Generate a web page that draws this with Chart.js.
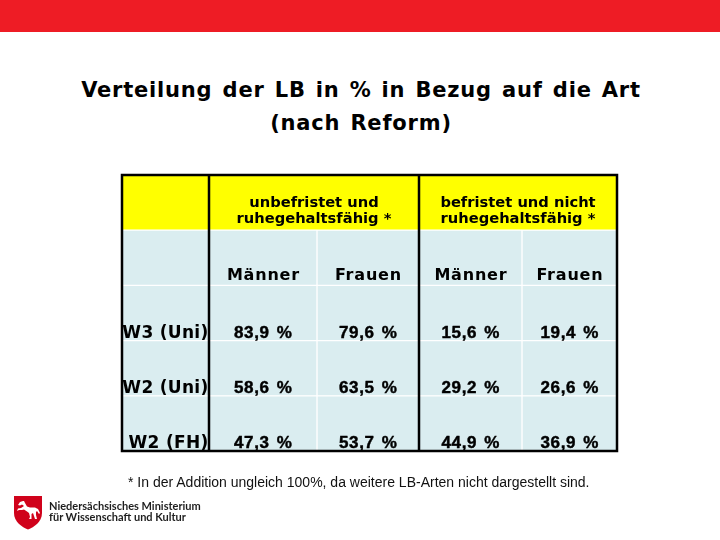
<!DOCTYPE html>
<html>
<head>
<meta charset="utf-8">
<script src="https://cdn.jsdelivr.net/npm/chart.js@4.4.1/dist/chart.umd.min.js"></script>
<style>
  html, body { margin:0; padding:0; background:#fff; }
  body { width:720px; height:540px; position:relative; overflow:hidden; font-family:"Liberation Sans", Arial, sans-serif; }
  #band { position:absolute; left:0; top:0; width:720px; height:32px; background:#ee1c25; }
  #title { position:absolute; left:1px; top:74px; width:720px; text-align:center; font-family:"DejaVu Sans", sans-serif; font-weight:bold; font-size:21px; line-height:33px; letter-spacing:0.8px; word-spacing:2px; color:#000; }
  #note { position:absolute; left:128px; top:474px; font-size:14px; line-height:16px; color:#111; white-space:nowrap; }
  #logo { position:absolute; left:14px; top:496px; }
  #ministry { position:absolute; left:49px; top:501px; font-family:Lato, "Open Sans", sans-serif; font-weight:bold; font-size:11px; line-height:10.5px; color:#1e1e1e; white-space:nowrap; }
  canvas { position:absolute; left:0; top:0; }
</style>
</head>
<body>
<div id="band"></div>
<div id="title">Verteilung der LB in % in Bezug auf die Art<br>(nach Reform)</div>
<canvas id="c" width="720" height="540"></canvas>
<div id="note">* In der Addition ungleich 100%, da weitere LB-Arten nicht dargestellt sind.</div>
<svg id="logo" width="28" height="34" viewBox="0 0 28 34">
  <path d="M0,0 H28 V17 C28,26 20,31 14,33.5 C8,31 0,26 0,17 Z" fill="#d0021b"/>
  <path d="M9,5 L6,6 L4,9 L6,9.5 L8,8.5 L10,10 L7,12 L4,12.5 L3,15 L5,14 L8,14 L10,13.5 L13,15.5 L15,17 L16,21 L15,23 L17.5,23 L17.5,18 L19,17 L20,20 L21,23 L23,23 L22,19 L22,16 L23,15 L25,18 L26,17 L24,13 L21,11.5 L16,11.5 L13,10.5 L11,7 L10,5 Z" fill="#fff"/>
</svg>
<div id="ministry">Niedersächsisches Ministerium<br>für Wissenschaft und Kultur</div>
<script>
// ---- data ----
const groupHeaders = ['unbefristet und\nruhegehaltsfähig *', 'befristet und nicht\nruhegehaltsfähig *'];
const subHeaders = ['Männer', 'Frauen', 'Männer', 'Frauen'];
const rowLabels = ['W3 (Uni)', 'W2 (Uni)', 'W2 (FH)'];
const unbefristetMaenner = [83.9, 58.6, 47.3];
const unbefristetFrauen  = [79.6, 63.5, 53.7];
const befristetMaenner   = [15.6, 29.2, 44.9];
const befristetFrauen    = [19.4, 26.6, 36.9];
const valueColumns = [unbefristetMaenner, unbefristetFrauen, befristetMaenner, befristetFrauen];

// ---- layout (not data) ----
const colWidths = [87, 108, 102, 103, 95];
const rowKeys = ['group', 'sub'].concat(rowLabels);
const YELLOW = '#ffff00', CYAN = '#daedf0';
const DJ = '"DejaVu Sans", sans-serif';
const AR = '"Liberation Sans", Arial, sans-serif';

function cellWidth(r, c) {
  if (r === 0) {
    if (c === 0) return colWidths[0];
    if (c === 1) return colWidths[1] + colWidths[2];
    if (c === 3) return colWidths[3] + colWidths[4];
    return null;
  }
  return colWidths[c];
}
function fmt(v) { return v.toFixed(1).replace('.', ',') + ' %'; }
function cellText(r, c) {
  if (r === 0) return c === 1 ? groupHeaders[0] : (c === 3 ? groupHeaders[1] : '');
  if (r === 1) return c >= 1 ? subHeaders[c - 1] : '';
  if (c === 0) return rowLabels[r - 2];
  return fmt(valueColumns[c - 1][r - 2]);
}

const datasets = colWidths.map((w, c) => ({
  label: 'col' + c,
  data: rowKeys.map((k, r) => cellWidth(r, c)),
  backgroundColor: rowKeys.map((k, r) => r === 0 ? YELLOW : CYAN),
  borderColor: '#ffffff',
  borderWidth: 1,
  borderSkipped: false,
  barPercentage: 1,
  categoryPercentage: 1
}));

function heavyText(ctx, txt, x, y, stroke) {
  ctx.fillText(txt, x, y);
  if (stroke) { ctx.lineWidth = stroke; ctx.strokeText(txt, x, y); }
}

const tablePlugin = {
  id: 'tableCells',
  afterDatasetsDraw(chart) {
    const ctx = chart.ctx, xs = chart.scales.x, a = chart.chartArea;
    ctx.save();
    ctx.strokeStyle = '#000';
    ctx.lineWidth = 2.5;
    const v1 = xs.getPixelForValue(colWidths[0]);
    const v2 = xs.getPixelForValue(colWidths[0] + colWidths[1] + colWidths[2]);
    ctx.beginPath();
    ctx.moveTo(v1, a.top); ctx.lineTo(v1, a.bottom);
    ctx.moveTo(v2, a.top); ctx.lineTo(v2, a.bottom);
    ctx.stroke();
    ctx.strokeRect(a.left, a.top, a.right - a.left, a.bottom - a.top);

    ctx.fillStyle = '#000';
    ctx.strokeStyle = '#000';
    ctx.lineJoin = 'round';
    ctx.textBaseline = 'alphabetic';
    chart.data.datasets.forEach((ds, c) => {
      const meta = chart.getDatasetMeta(c);
      meta.data.forEach((bar, r) => {
        const txt = cellText(r, c);
        if (!txt) return;
        const left = Math.min(bar.x, bar.base), right = Math.max(bar.x, bar.base);
        const bottom = bar.y + bar.height / 2;
        const cx = (left + right) / 2;
        ctx.wordSpacing = '0px';
        if (r === 0) {
          ctx.font = 'bold 14.7px ' + DJ;
          ctx.letterSpacing = '0px';
          ctx.textAlign = 'center';
          const lines = txt.split('\n');
          heavyText(ctx, lines[0], cx, bottom - 23.5, 0);
          heavyText(ctx, lines[1], cx, bottom - 7.5, 0);
        } else if (r === 1) {
          ctx.font = 'bold 16px ' + DJ;
          ctx.letterSpacing = '0.8px';
          ctx.textAlign = 'center';
          heavyText(ctx, txt, cx + 0.4, bottom - 5.5, 0);
        } else if (c === 0) {
          ctx.font = 'bold 17px ' + DJ;
          ctx.letterSpacing = '0.3px';
          ctx.textAlign = 'right';
          heavyText(ctx, txt, right - 0.5, bottom - 3, 0);
        } else {
          ctx.font = 'bold 17px ' + AR;
          ctx.letterSpacing = '0.6px';
          ctx.wordSpacing = '2px';
          ctx.textAlign = 'center';
          heavyText(ctx, txt, cx + 0.3, bottom - 3, 0.45);
        }
      });
    });
    ctx.restore();
  }
};

new Chart(document.getElementById('c'), {
  type: 'bar',
  data: { labels: rowKeys, datasets: datasets },
  options: {
    indexAxis: 'y',
    responsive: false,
    devicePixelRatio: 1,
    animation: false,
    events: [],
    layout: { padding: { left: 122, right: 103, top: 175, bottom: 89 } },
    scales: {
      x: { type: 'linear', stacked: true, min: 0, max: colWidths.reduce((s, w) => s + w, 0), display: false },
      y: { type: 'category', stacked: true, offset: true, display: false }
    },
    plugins: { legend: { display: false }, tooltip: { enabled: false }, title: { display: false } }
  },
  plugins: [tablePlugin]
});
</script>
</body>
</html>
